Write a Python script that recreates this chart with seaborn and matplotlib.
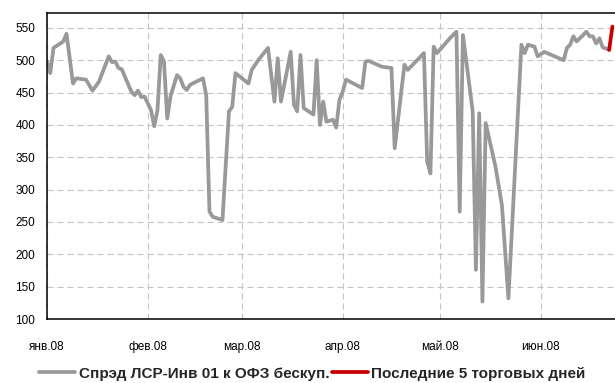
import pandas as pd
import matplotlib
matplotlib.use("Agg")
import matplotlib.pyplot as plt
import seaborn as sns

# Spread data (2008)
dates = ["2008-01-01", "2008-01-02", "2008-01-03", "2008-01-06", "2008-01-07",
         "2008-01-09", "2008-01-10", "2008-01-13", "2008-01-15", "2008-01-17",
         "2008-01-20", "2008-01-21", "2008-01-22", "2008-01-23", "2008-01-24",
         "2008-01-27", "2008-01-28", "2008-01-29", "2008-01-30", "2008-01-31",
         "2008-02-02", "2008-02-03", "2008-02-04", "2008-02-05", "2008-02-06",
         "2008-02-07", "2008-02-08", "2008-02-10", "2008-02-11", "2008-02-12",
         "2008-02-13", "2008-02-14", "2008-02-18", "2008-02-19", "2008-02-20",
         "2008-02-21", "2008-02-24", "2008-02-26", "2008-02-27", "2008-02-28",
         "2008-03-01", "2008-03-03", "2008-03-04", "2008-03-06", "2008-03-09",
         "2008-03-11", "2008-03-12", "2008-03-13", "2008-03-16", "2008-03-17",
         "2008-03-18", "2008-03-19", "2008-03-20", "2008-03-23", "2008-03-24",
         "2008-03-25", "2008-03-26", "2008-03-27", "2008-03-29", "2008-03-30",
         "2008-03-31", "2008-04-01", "2008-04-02", "2008-04-07", "2008-04-08",
         "2008-04-09", "2008-04-13", "2008-04-16", "2008-04-17", "2008-04-20",
         "2008-04-21", "2008-04-26", "2008-04-27", "2008-04-28", "2008-04-29",
         "2008-04-30", "2008-05-04", "2008-05-05", "2008-05-06", "2008-05-07",
         "2008-05-08", "2008-05-11", "2008-05-12", "2008-05-13", "2008-05-14",
         "2008-05-15", "2008-05-18", "2008-05-20", "2008-05-22", "2008-05-26",
         "2008-05-27", "2008-05-28", "2008-05-30", "2008-05-31", "2008-06-02",
         "2008-06-08", "2008-06-09", "2008-06-10", "2008-06-11", "2008-06-12",
         "2008-06-15", "2008-06-16", "2008-06-17", "2008-06-18", "2008-06-19",
         "2008-06-20", "2008-06-22"]
spread = [498, 480, 519, 529, 541,
          464, 472, 470, 453, 467,
          506, 497, 498, 488, 486,
          451, 446, 453, 443, 444,
          423, 398, 423, 508, 498,
          410, 444, 477, 472, 459,
          454, 462, 472, 446, 266,
          258, 253, 421, 428, 480,
          472, 464, 485, 500, 519,
          436, 503, 436, 513, 431,
          421, 508, 426, 416, 500,
          400, 436, 405, 408, 396,
          439, 451, 470, 457, 498,
          499, 490, 488, 364, 493,
          485, 511, 343, 325, 521,
          511, 534, 539, 544, 266,
          539, 421, 176, 418, 127,
          403, 336, 276, 132, 524,
          511, 524, 521, 506, 513,
          500, 519, 524, 537, 529,
          544, 537, 537, 526, 534,
          520, 516]

last_dates = ["2008-06-22", "2008-06-23"]
last_spread = [516, 552]

month_ticks = ["2008-01-01", "2008-02-01", "2008-03-01", "2008-04-01", "2008-05-01", "2008-06-01"]
month_labels = ["янв.08", "фев.08", "мар.08", "апр.08", "май.08", "июн.08"]

label_main = "Спрэд ЛСР-Инв 01 к ОФЗ бескуп."
label_last = "Последние 5 торговых дней"

sns.set_style("white")
plt.rcParams['font.family'] = ['Liberation Sans', 'DejaVu Sans']

fig = plt.figure(figsize=(6.15, 3.83), dpi=100)
ax = fig.add_axes([47 / 615, 64 / 383, 568 / 615, 306 / 383])

df = pd.DataFrame({"date": pd.to_datetime(dates), "spread": spread})
df_last = pd.DataFrame({"date": pd.to_datetime(last_dates), "spread": last_spread})

sns.lineplot(data=df, x="date", y="spread", color="#999999", linewidth=2.7,
             ax=ax, label=label_main)
sns.lineplot(data=df_last, x="date", y="spread", color="#CC0000", linewidth=2.7,
             ax=ax, label=label_last)

ax.set_xlim(pd.Timestamp("2008-01-01"), pd.Timestamp("2008-01-01") + pd.Timedelta(days=174.8))
ax.set_ylim(100, 573)
ax.set_yticks(range(100, 551, 50))
ax.set_xticks(pd.to_datetime(month_ticks))
ax.set_xticklabels(month_labels)
ax.set_xlabel("")
ax.set_ylabel("")

ax.grid(True, color="#c4c4c4", linewidth=0.8, linestyle=(0, (5.5, 3.5)))
for side in ["left", "top", "bottom"]:
    ax.spines[side].set_color("black")
    ax.spines[side].set_linewidth(1.1)
ax.spines["right"].set_visible(False)

ax.tick_params(axis="y", direction="out", length=4.5, width=0.8, pad=4,
               labelsize=8.5, colors="black")
ax.tick_params(axis="x", direction="out", length=4.5, width=0.8, pad=11,
               labelsize=8.5, colors="black")

ax.get_legend().remove()
handles, labels = ax.get_legend_handles_labels()
fig.legend(handles, labels, loc="lower center", bbox_to_anchor=(0.508, -0.03),
           ncol=2, frameon=False, handlelength=2.35, handletextpad=0.26,
           columnspacing=0.13, prop={"weight": "bold", "size": 11})

fig.savefig("out.png", dpi=100)
